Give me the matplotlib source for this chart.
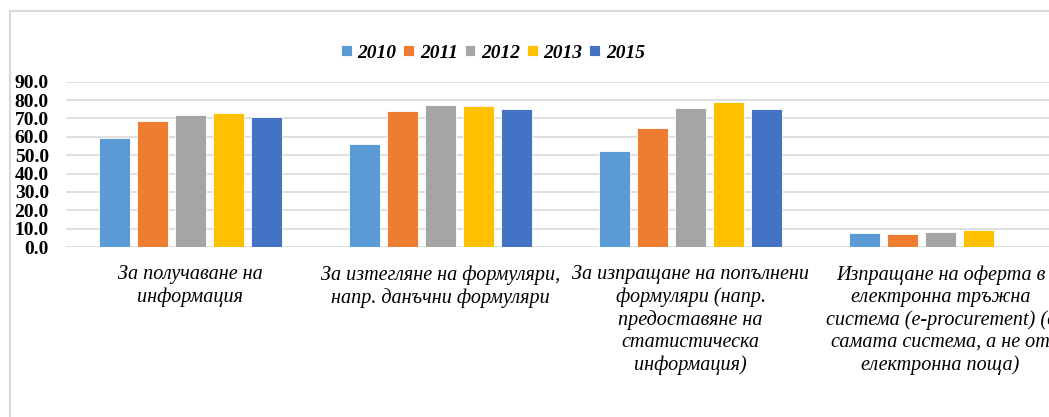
import numpy as np
import matplotlib
matplotlib.use('Agg')
import matplotlib.pyplot as plt
from matplotlib.patches import Rectangle

# Категории и стойности (%)
categories = [
    'За получаване на\nинформация',
    'За изтегляне на формуляри,\nнапр. данъчни формуляри',
    'За изпращане на попълнени\nформуляри (напр.\nпредоставяне на\nстатистическа\nинформация)',
    'Изпращане на оферта в\nелектронна тръжна\nсистема (e-procurement) (в\nсамата система, а не от\nелектронна поща)',
]
years = ['2010', '2011', '2012', '2013', '2015']
v2010 = [59.1, 56.1, 52.2, 7.4]
v2011 = [68.6, 74.3, 64.9, 6.9]
v2012 = [71.7, 77.5, 75.5, 8.0]
v2013 = [73.0, 76.8, 79.0, 9.2]
v2015 = [70.6, 75.2, 75.0, np.nan]
series = [v2010, v2011, v2012, v2013, v2015]
colors = ['#5B9BD5', '#ED7D31', '#A5A5A5', '#FFC000', '#4472C4']

W, H = 1049, 417
fig = plt.figure(figsize=(W / 100, H / 100), dpi=100)

# рамка на диаграмата
fig.add_artist(Rectangle((10 / W, -0.05), 1.2, (H - 11) / H + 0.05,
                         transform=fig.transFigure, fill=False,
                         edgecolor='#d9d9d9', linewidth=1.5))

ax = fig.add_axes([65.5 / W, (H - 247) / H, 1000 / W, (247 - 81.7) / H])

x = np.arange(len(categories))
width = 0.122
pitch = 0.152
for i, (year, vals, col) in enumerate(zip(years, series, colors)):
    ax.bar(x + (i - 2) * pitch, vals, width, label=year, color=col,
           edgecolor='white', linewidth=0.6, zorder=3)

ax.set_xlim(-0.5, 3.5)
ax.set_ylim(0, 90)
ax.set_yticks(np.arange(0, 91, 10))
ax.set_yticklabels([f'{v:.1f}' for v in np.arange(0, 91, 10)],
                   fontfamily='Liberation Serif', fontweight='bold', fontsize=14)
ax.set_xticks(x)
ax.set_xticklabels(categories, fontfamily='Liberation Serif', fontstyle='italic',
                   fontsize=14.5, linespacing=1.22, va='top')
ax.tick_params(axis='y', length=0, pad=12)
ax.tick_params(axis='x', length=0, pad=13)
for s in ax.spines.values():
    s.set_visible(False)
ax.yaxis.grid(True, color='#d9d9d9', linewidth=1.2)
ax.set_axisbelow(True)

leg = fig.legend(loc='center', bbox_to_anchor=(493 / W, (H - 53) / H), ncol=5,
                 frameon=False, handlelength=0.55, handleheight=0.55,
                 handletextpad=0.3, columnspacing=0.35,
                 prop={'family': 'Liberation Serif', 'weight': 'bold',
                       'style': 'italic', 'size': 14})

fig.savefig('out.png', dpi=100)
